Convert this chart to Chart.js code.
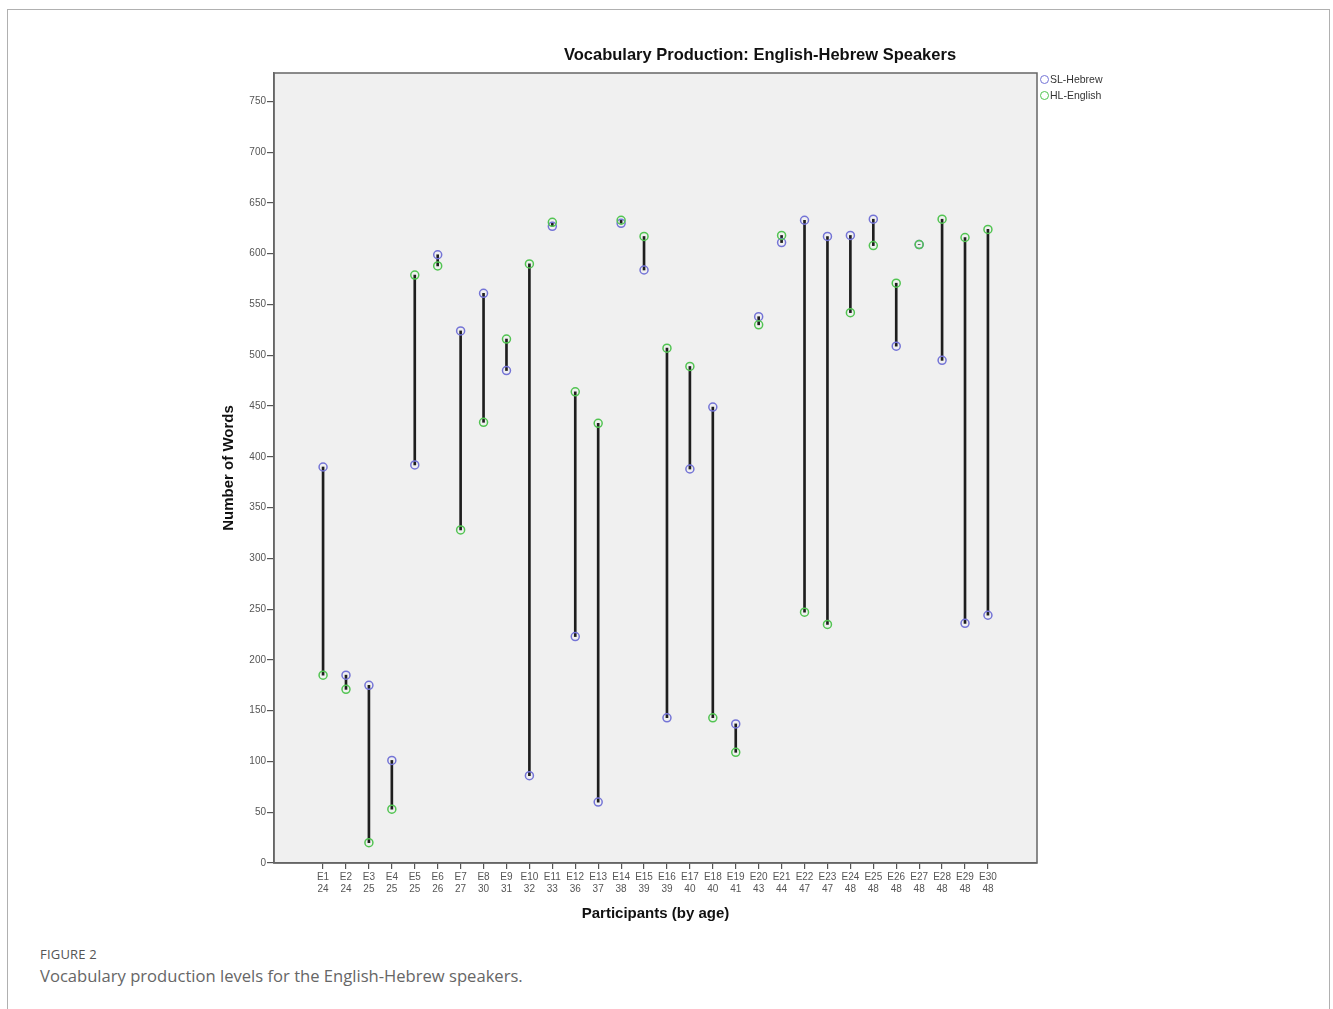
<!DOCTYPE html>
<html lang="en">
<head>
    <meta charset="UTF-8">
    <title>Vocabulary Production: English-Hebrew Speakers</title>
    <script src="https://cdn.jsdelivr.net/npm/chart.js"></script>
    <style>
        body { margin: 0; background: #fff; width: 1333px; height: 1009px; overflow: hidden; position: relative; }
        .frame { position: absolute; left: 7px; top: 9px; width: 1321px; height: 1100px; border: 1.5px solid #b0b0b0; }
        #myChart { position: absolute; left: 0; top: 0; }
        .chart-title { position: absolute; left: 510px; width: 500px; top: 45px; text-align: center;
            font: bold 16.5px "Liberation Sans", Arial, sans-serif; color: #111; }
        .legend { position: absolute; left: 1040px; top: 73px; font: 10.5px "Liberation Sans", Arial, sans-serif; color: #333; }
        .legend div { height: 16px; line-height: 12px; white-space: nowrap; }
        .legend span { display: inline-block; width: 7px; height: 7px; border-radius: 50%; border: 1.5px solid; vertical-align: -1px; margin-right: 1px; }
        .fig-label { position: absolute; left: 40px; top: 945px; font: 13px "Open Sans", sans-serif; color: #555; letter-spacing: 0.2px; }
        .fig-caption { position: absolute; left: 40px; top: 964px; font: 16.6px "Open Sans", sans-serif; color: #666; }
    </style>
</head>
<body>
    <div class="frame"></div>
    <canvas id="myChart" width="1333" height="940"></canvas>
    <div class="chart-title">Vocabulary Production: English-Hebrew Speakers</div>
    <div class="legend">
        <div><span style="border-color:#7474d6"></span>SL-Hebrew</div>
        <div><span style="border-color:#52c452"></span>HL-English</div>
    </div>
    <div class="fig-label">FIGURE 2</div>
    <div class="fig-caption">Vocabulary production levels for the English-Hebrew speakers.</div>

    <script>
        // 참가자 / 나이 (x축 두 줄 라벨)
        var participants = ['E1', 'E2', 'E3', 'E4', 'E5', 'E6', 'E7', 'E8', 'E9', 'E10',
                            'E11', 'E12', 'E13', 'E14', 'E15', 'E16', 'E17', 'E18', 'E19', 'E20',
                            'E21', 'E22', 'E23', 'E24', 'E25', 'E26', 'E27', 'E28', 'E29', 'E30'];
        var ages = [24, 24, 25, 25, 25, 26, 27, 30, 31, 32,
                    33, 36, 37, 38, 39, 39, 40, 40, 41, 43,
                    44, 47, 47, 48, 48, 48, 48, 48, 48, 48];

        // 어휘 수
        var slHebrew  = [390, 185, 175, 101, 392, 599, 524, 561, 485, 86,
                         627, 223, 60, 630, 584, 143, 388, 449, 137, 538,
                         611, 633, 617, 618, 634, 509, 609, 495, 236, 244];
        var hlEnglish = [185, 171, 20, 53, 579, 588, 328, 434, 516, 590,
                         631, 464, 433, 633, 617, 507, 489, 143, 109, 530,
                         618, 247, 235, 542, 608, 571, 609, 634, 616, 624];

        var yTicks = [0, 50, 100, 150, 200, 250, 300, 350, 400, 450, 500, 550, 600, 650, 700, 750];

        // x 위치 = 참가자 번호
        var positions = participants.map(function (p, i) { return i + 1; });

        function points(values) {
            return values.map(function (v, i) { return { x: positions[i], y: v }; });
        }

        // 두 값 사이를 잇는 세로선 (floating bar)
        var ranges = positions.map(function (x, i) { return { x: x, y: [slHebrew[i], hlEnglish[i]] }; });

        // 플롯 영역 배경 + 테두리
        var plotBox = {
            id: 'plotBox',
            beforeDraw: function (chart) {
                var a = chart.chartArea, ctx = chart.ctx;
                ctx.save();
                ctx.fillStyle = '#f0f0f0';
                ctx.fillRect(a.left, a.top, a.right - a.left, a.bottom - a.top);
                ctx.restore();
            },
            afterDraw: function (chart) {
                var a = chart.chartArea, ctx = chart.ctx;
                ctx.save();
                ctx.strokeStyle = '#666';
                ctx.lineWidth = 1.5;
                ctx.strokeRect(a.left, a.top, a.right - a.left, a.bottom - a.top);
                ctx.restore();
            }
        };

        var tickFont = { family: '"Liberation Sans", Arial, sans-serif', size: 10 };
        var axisTitleFont = { family: '"Liberation Sans", Arial, sans-serif', size: 15, weight: 'bold' };

        var config = {
            type: 'scatter',
            data: {
                datasets: [
                    {
                        type: 'bar',
                        label: 'range',
                        data: ranges,
                        backgroundColor: '#1e1e1e',
                        borderWidth: 0,
                        barThickness: 2,
                        order: 3
                    },
                    {
                        label: 'SL-Hebrew',
                        data: points(slHebrew),
                        pointRadius: 4,
                        pointBorderWidth: 1.5,
                        borderColor: '#7474d6',
                        backgroundColor: 'rgba(0,0,0,0)',
                        order: 2
                    },
                    {
                        label: 'HL-English',
                        data: points(hlEnglish),
                        pointRadius: 4,
                        pointBorderWidth: 1.5,
                        borderColor: '#52c452',
                        backgroundColor: 'rgba(0,0,0,0)',
                        order: 1
                    }
                ]
            },
            options: {
                responsive: false,
                animation: false,
                layout: { padding: { left: 216, right: 296, top: 73, bottom: 13 } },
                plugins: {
                    legend: { display: false },
                    tooltip: { enabled: false }
                },
                scales: {
                    x: {
                        type: 'linear',
                        offset: false,
                        min: -1.14,
                        max: 32.14,
                        afterBuildTicks: function (axis) {
                            axis.ticks = positions.map(function (v) { return { value: v }; });
                        },
                        afterFit: function (axis) { axis.height = 64; },
                        ticks: {
                            autoSkip: false,
                            maxRotation: 0,
                            padding: 2,
                            color: '#555',
                            font: tickFont,
                            callback: function (value) {
                                var i = value - 1;
                                return [participants[i], String(ages[i])];
                            }
                        },
                        grid: { offset: false, drawOnChartArea: false, drawTicks: true, tickLength: 6, color: '#555', lineWidth: 1.2 },
                        border: { color: '#666', width: 1.5 },
                        title: {
                            display: true,
                            text: 'Participants (by age)',
                            color: '#111',
                            font: axisTitleFont,
                            padding: { top: 4, bottom: 4 }
                        }
                    },
                    y: {
                        min: 0,
                        max: 778,
                        afterBuildTicks: function (axis) {
                            axis.ticks = yTicks.map(function (v) { return { value: v }; });
                        },
                        afterFit: function (axis) { axis.width = 58; },
                        ticks: { padding: 1, color: '#555', font: tickFont },
                        grid: { drawOnChartArea: false, drawTicks: true, tickLength: 7, color: '#555', lineWidth: 1.2 },
                        border: { color: '#666', width: 1.5 },
                        title: {
                            display: true,
                            text: 'Number of Words',
                            color: '#111',
                            font: axisTitleFont,
                            padding: { top: 4, bottom: 4 }
                        }
                    }
                }
            },
            plugins: [plotBox]
        };

        var ctx = document.getElementById('myChart').getContext('2d');
        var myChart = new Chart(ctx, config);
    </script>
</body>
</html>
